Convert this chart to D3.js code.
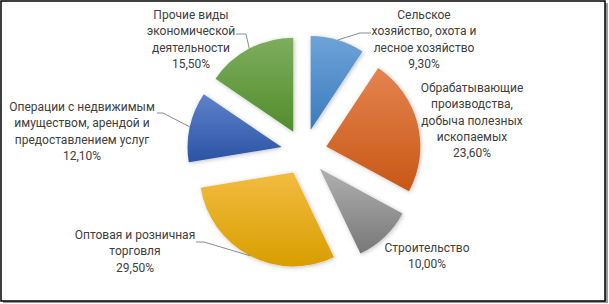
<!DOCTYPE html>
<html>
<head>
<meta charset="utf-8">
<script src="https://cdn.jsdelivr.net/npm/d3@7"></script>
<style>
  html, body { margin: 0; padding: 0; background: #fff; }
  svg { display: block; }
  .lbl { font-family: Roboto, "Noto Sans", sans-serif; font-size: 12px; fill: #404040; }
</style>
</head>
<body>
<script>
(function(){

  // data
  var categories = [
    "Сельское\nхозяйство, охота и\nлесное хозяйство",
    "Обрабатывающие\nпроизводства,\nдобыча полезных\nископаемых",
    "Строительство",
    "Оптовая и розничная\nторговля",
    "Операции с недвижимым\nимуществом, арендой и\nпредоставлением услуг",
    "Прочие виды\nэкономической\nдеятельности"
  ]
  var values = [9.3, 23.6, 10.0, 29.5, 12.1, 15.5]
  var colorsTop    = ['#6ea3d8', '#e5834f', '#b0b0b0', '#f2bc40', '#5e82cb', '#7dae5c']
  var colorsBottom = ['#3a7bbd', '#c75816', '#787878', '#d89e00', '#2a53a4', '#528c2e']

  // layout of labels: center x, first baseline, leader elbow (null = no leader)
  var labelLayout = [
    { x: 424, y: 19, elbow: [[371, 33], [360, 33]] },
    { x: 472, y: 92, elbow: null },
    { x: 427, y: 252, elbow: null },
    { x: 135, y: 239, elbow: [[196, 242], [204, 242]] },
    { x: 82, y: 111, elbow: [[157, 113], [163, 113]] },
    { x: 191, y: 19, elbow: [[236, 34], [246, 34]] }
  ]

  var width = 609, height = 304
  var cx = 304, cy = 152, radius = 94, explode = 23
  var lineH = 16.3

  var svg = d3.select('body').append('svg')
      .attr('width', width)
      .attr('height', height)

  var defs = svg.append('defs')

  var shadow = defs.append('filter').attr('id', 'sh')
      .attr('x', '-20%').attr('y', '-20%').attr('width', '140%').attr('height', '140%')
  shadow.append('feDropShadow')
      .attr('dx', 1).attr('dy', 1).attr('stdDeviation', 2)
      .attr('flood-color', '#000').attr('flood-opacity', 0.25)

  values.forEach(function(v, i){
    var g = defs.append('linearGradient')
        .attr('id', 'grad' + i)
        .attr('x1', 0).attr('y1', 0).attr('x2', 0).attr('y2', 1)
    g.append('stop').attr('offset', '0%').attr('stop-color', colorsTop[i])
    g.append('stop').attr('offset', '100%').attr('stop-color', colorsBottom[i])
  })

  // frame with shadow
  svg.append('rect')
      .attr('x', 3).attr('y', 3).attr('width', 605).attr('height', 300)
      .attr('fill', '#9a9a9a')
  svg.append('rect')
      .attr('x', 1).attr('y', 1).attr('width', 604).attr('height', 300)
      .attr('fill', '#fff')
      .attr('stroke', '#000')
      .attr('stroke-width', 1.5)

  var pie = d3.pie().sort(null).value(function(d){ return d })
  var arcs = pie(values)

  var arc = d3.arc().innerRadius(0).outerRadius(radius)

  function offset(d){
    var a = (d.startAngle + d.endAngle) / 2
    return [Math.sin(a) * explode, -Math.cos(a) * explode]
  }

  var slices = svg.append('g')
      .attr('transform', 'translate(' + cx + ',' + cy + ')')

  slices.selectAll('path')
      .data(arcs)
      .enter().append('path')
      .attr('transform', function(d){ var o = offset(d); return 'translate(' + o[0] + ',' + o[1] + ')' })
      .attr('d', arc)
      .attr('fill', function(d, i){ return 'url(#grad' + i + ')' })
      .attr('filter', 'url(#sh)')

  // leader lines
  arcs.forEach(function(d, i){
    var lay = labelLayout[i]
    if (!lay.elbow) return
    var a = (d.startAngle + d.endAngle) / 2
    var o = offset(d)
    var px = cx + o[0] + Math.sin(a) * radius
    var py = cy + o[1] - Math.cos(a) * radius
    var pts = lay.elbow.concat([[px, py]])
    svg.append('path')
        .attr('d', d3.line()(pts))
        .attr('fill', 'none')
        .attr('stroke', '#7f7f7f')
        .attr('stroke-width', 0.9)
  })

  // labels
  arcs.forEach(function(d, i){
    var lay = labelLayout[i]
    var lines = categories[i].split('\n')
    lines.push(values[i].toFixed(2).replace('.', ',') + '%')
    var t = svg.append('text')
        .attr('class', 'lbl')
        .attr('text-anchor', 'middle')
    lines.forEach(function(s, j){
      t.append('tspan')
          .attr('x', lay.x)
          .attr('y', lay.y + j * lineH)
          .text(s)
    })
  })

})()
</script>
</body>
</html>
